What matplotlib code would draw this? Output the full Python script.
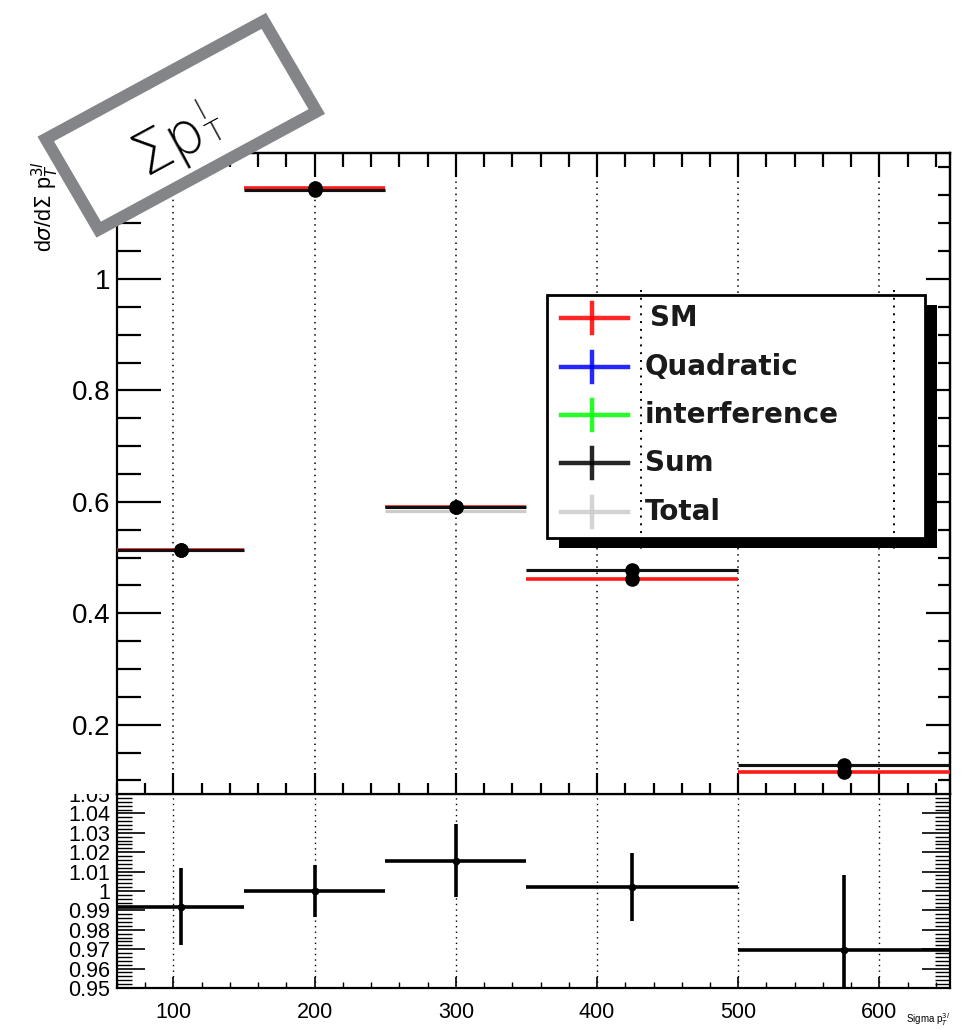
import matplotlib
matplotlib.use("Agg")
import matplotlib.pyplot as plt
from matplotlib.ticker import MultipleLocator, FuncFormatter, FixedLocator
from matplotlib.patches import Polygon, Rectangle
from matplotlib.lines import Line2D
import numpy as np

plt.rcParams['font.family'] = ['Liberation Sans', 'DejaVu Sans']

# ---------------- data ----------------
bin_edges = [60, 150, 250, 350, 500, 650]
bin_centers = [105, 200, 300, 425, 575]
sm_values = [0.514, 1.163, 0.590, 0.462, 0.116]
sum_values = [0.514, 1.159, 0.590, 0.477, 0.127]
total_values = [0.514, 1.159, 0.584, 0.477, 0.127]
ratio_values = [0.992, 1.000, 1.0157, 1.002, 0.9695]
ratio_errors = [0.020, 0.0135, 0.019, 0.0175, 0.039]
legend_labels = ["SM", "Quadratic", "interference", "Sum", "Total"]
legend_colors = ["#ff0000", "#0000ff", "#00ff00", "#000000", "#cccccc"]
main_yticks = [0.2, 0.4, 0.6, 0.8, 1.0]
ratio_yticks = [0.95, 0.96, 0.97, 0.98, 0.99, 1.00, 1.01, 1.02, 1.03, 1.04, 1.05]
xticks = [100, 200, 300, 400, 500, 600]

W, H = 963, 1029
def fx(x):
    return x / W
def fy(y):
    return 1 - y / H

fig = plt.figure(figsize=(W / 100, H / 100), dpi=100)

L, R = 117, 950
main_top, split, ratio_bot = 153, 794, 988

ax = fig.add_axes([fx(L), fy(split), (R - L) / W, (split - main_top) / H])
rax = fig.add_axes([fx(L), fy(ratio_bot), (R - L) / W, (ratio_bot - split) / H])
ax.set_zorder(2)
rax.set_zorder(0)

edges = np.array(bin_edges, dtype=float)
centers = np.array(bin_centers, dtype=float)
xlo = centers - edges[:-1]
xhi = edges[1:] - centers

dotted = (0, (1.0, 3.0))

# ---------------- main panel ----------------
for xv in xticks:
    ax.axvline(xv, color='black', lw=1.1, ls=dotted, zorder=1)

ax.errorbar(centers, total_values, xerr=[xlo, xhi], fmt='none', ecolor='#cccccc',
            elinewidth=2.4, capsize=0, zorder=2)
ax.errorbar(centers, sm_values, xerr=[xlo, xhi], fmt='none', ecolor='#ff1a1a',
            elinewidth=2.6, capsize=0, zorder=3)
ax.errorbar(centers, sum_values, xerr=[xlo, xhi], fmt='none', ecolor='#111111',
            elinewidth=2.2, capsize=0, zorder=4)
ax.plot(centers, sm_values, 'o', color='black', ms=9.5, zorder=5)
ax.plot(centers, sum_values, 'o', color='black', ms=9.5, zorder=6)

ax.set_xlim(60, 650)
ax.set_ylim(0.0757, 1.226)
ax.yaxis.set_major_locator(FixedLocator(main_yticks))
ax.yaxis.set_minor_locator(MultipleLocator(0.05))
ax.xaxis.set_major_locator(FixedLocator(xticks))
ax.xaxis.set_minor_locator(MultipleLocator(20))
ax.yaxis.set_major_formatter(FuncFormatter(lambda v, p: "%g" % round(v, 3)))
ax.tick_params(axis='y', which='major', direction='in', length=32, width=1.6,
               labelsize=20, pad=5, left=True, right=False)
ax.tick_params(axis='y', which='minor', direction='in', length=17, width=1.6,
               left=True, right=False)
ax.tick_params(axis='x', which='major', direction='in', length=15, width=1.6,
               labelbottom=False, bottom=True, top=False)
ax.tick_params(axis='x', which='minor', direction='in', length=8, width=1.6,
               bottom=True, top=False)
for s in ax.spines.values():
    s.set_linewidth(1.6)

sec_y = ax.secondary_yaxis('right')
sec_y.yaxis.set_major_locator(FixedLocator(main_yticks))
sec_y.yaxis.set_minor_locator(MultipleLocator(0.05))
sec_y.tick_params(which='major', direction='in', length=17, width=1.6, labelright=False)
sec_y.tick_params(which='minor', direction='in', length=9, width=1.6)
sec_y.spines['right'].set_linewidth(1.6)

sec_x = ax.secondary_xaxis('top')
sec_x.xaxis.set_major_locator(FixedLocator(xticks))
sec_x.xaxis.set_minor_locator(MultipleLocator(20))
sec_x.tick_params(which='major', direction='in', length=17, width=1.6, labeltop=False)
sec_x.tick_params(which='minor', direction='in', length=10, width=1.6)
sec_x.spines['top'].set_linewidth(1.6)

# ---------------- ratio panel ----------------
for xv in xticks:
    rax.axvline(xv, color='black', lw=1.0, ls=dotted, zorder=1)
rax.errorbar(centers, ratio_values, xerr=[xlo, xhi], yerr=ratio_errors, fmt='o',
             color='black', ms=4.5, elinewidth=2.6, capsize=0, zorder=3)
rax.set_xlim(60, 650)
rax.set_ylim(0.95, 1.05)
rax.yaxis.set_major_locator(FixedLocator(ratio_yticks))
rax.yaxis.set_minor_locator(MultipleLocator(0.002))
rax.xaxis.set_major_locator(FixedLocator(xticks))
rax.xaxis.set_minor_locator(MultipleLocator(20))
rax.yaxis.set_major_formatter(FuncFormatter(lambda v, p: "%g" % round(v, 4)))
rax.tick_params(axis='y', which='major', direction='in', length=20, width=1.2,
                labelsize=15.5, pad=5, left=True, right=True)
rax.tick_params(axis='y', which='minor', direction='in', length=11, width=1.0,
                left=True, right=True)
rax.tick_params(axis='x', which='major', direction='in', length=8, width=1.2,
                labelsize=15.5, pad=10, bottom=True, top=False)
rax.tick_params(axis='x', which='minor', direction='in', length=4, width=1.0,
                bottom=True, top=False)
for s in rax.spines.values():
    s.set_linewidth(1.6)

# white pad covering the area left of the main panel (hides top of "1.05")
fig.add_artist(Rectangle((0, fy(split)), fx(L), (split - 0) / H, transform=fig.transFigure,
                         facecolor='white', edgecolor='none', zorder=1))

# axis titles
fig.text(fx(45), fy(252), r"d$\sigma$/d$\Sigma$ p$_{T}^{3l}$", rotation=90,
         ha='center', va='bottom', fontsize=15.5, zorder=3)
fig.text(fx(950), fy(1020), r"Sigma p$_{T}^{3l}$", ha='right', va='center',
         fontsize=7, zorder=3)

# ---------------- legend (ROOT style with shadow) ----------------
lx0, lx1, ly0, ly1 = 547, 925, 295, 538
fig.add_artist(Rectangle((fx(lx0 + 12), fy(ly1 + 10)), (lx1 - lx0) / W, (ly1 - ly0) / H,
                         transform=fig.transFigure, facecolor='black', edgecolor='none', zorder=5))
fig.add_artist(Rectangle((fx(lx0), fy(ly1)), (lx1 - lx0) / W, (ly1 - ly0) / H,
                         transform=fig.transFigure, facecolor='white', edgecolor='black',
                         lw=2.0, zorder=6))
row_y = [318, 367, 415, 463, 512]
for i, (lab, col) in enumerate(zip(legend_labels, legend_colors)):
    yy = row_y[i]
    fig.add_artist(Line2D([fx(561), fx(628)], [fy(yy), fy(yy)], transform=fig.transFigure,
                          color=col, lw=3.2, alpha=0.85, zorder=7))
    fig.add_artist(Line2D([fx(592), fx(592)], [fy(yy - 15), fy(yy + 15)],
                          transform=fig.transFigure, color=col, lw=3.2, alpha=0.85, zorder=7))
    tx = 650 if lab == "SM" else 645
    fig.text(fx(tx), fy(yy), lab, ha='left', va='center', fontsize=20,
             fontweight='bold', family=['DejaVu Sans'], color='#1a1a1a', zorder=8)
# dotted lines crossing the legend area
for xv in [641, 894]:
    fig.add_artist(Line2D([fx(xv), fx(xv)], [fy(290), fy(553)], transform=fig.transFigure,
                          color='black', lw=1.4, ls=(0, (1.0, 3.0)), zorder=9))

# ---------------- rotated label box ----------------
C = np.array([181.25, 125.25])
u = np.array([229.0, -124.0]); u /= np.linalg.norm(u)
v = np.array([59.0, 101.0]); v /= np.linalg.norm(v)
hl, hs = 124.0, 52.5
corners = [C - hl * u - hs * v, C + hl * u - hs * v, C + hl * u + hs * v, C - hl * u + hs * v]
poly = Polygon([(fx(p[0]), fy(p[1])) for p in corners], closed=True, transform=fig.transFigure,
               facecolor='white', edgecolor='#838588', lw=8.6, joinstyle='miter', zorder=10)
fig.add_artist(poly)
ang = np.degrees(np.arctan2(124.0, 229.0))
n_up = np.array([-v[0], -v[1]])  # "up" direction of rotated text in screen pixels
box_font = ['DejaVu Sans', 'Liberation Sans']
renderer = fig.canvas.get_renderer()
tmp = fig.text(0, 0, "\u03a3p", fontsize=42, family=box_font, fontweight='light')
wpx = tmp.get_window_extent(renderer).width
tmp.remove()
A = np.array([144.0, 175.0])  # baseline-left of the big text (screen px)
fig.text(fx(A[0]), fy(A[1]), "\u03a3p", rotation=ang, rotation_mode='anchor', ha='left',
         va='baseline', fontsize=42, family=box_font, fontweight='light', zorder=11)
Pt = A + (wpx + 1) * u - 5 * n_up
fig.text(fx(Pt[0]), fy(Pt[1]), "T", rotation=ang, rotation_mode='anchor', ha='left',
         va='baseline', fontsize=21, family=box_font, fontweight='light', zorder=11)
Pl = A + (wpx + 4) * u + 22 * n_up
fig.text(fx(Pl[0]), fy(Pl[1]), "l", rotation=ang, rotation_mode='anchor', ha='left',
         va='baseline', fontsize=21, family=box_font, fontweight='light', zorder=11)

fig.savefig("out.png", dpi=100)
